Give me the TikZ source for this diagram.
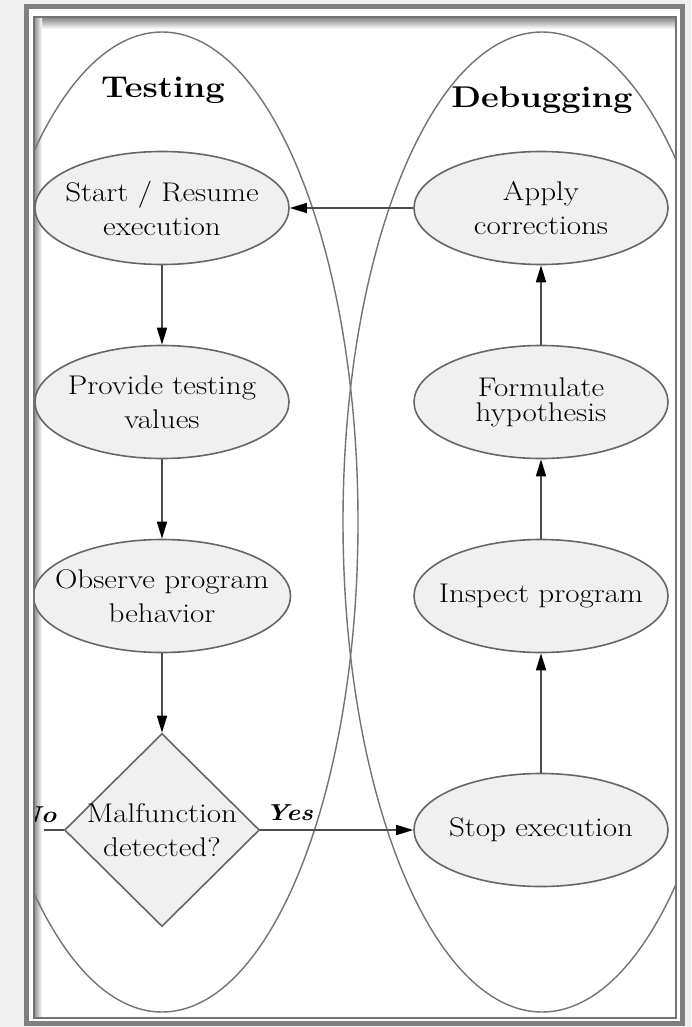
\documentclass[tikz,border=0pt]{standalone}
\usepackage{fontspec}
\setmainfont{Latin Modern Roman}[FakeStretch=1.15]
\usetikzlibrary{shapes.geometric,arrows.meta}
\begin{document}
\begin{tikzpicture}[x=1pt,y=-1pt,
  bodyfont/.style={font=\fontsize{27}{34}\selectfont},
  proc/.style={ellipse, draw=black!60, line width=1.6pt, fill=black!6, minimum width=254pt, minimum height=113pt, inner xsep=-16pt, inner ysep=0pt, align=center, bodyfont, text=black},
  dec/.style={diamond, draw=black!60, line width=1.6pt, fill=black!6, minimum width=195pt, minimum height=193pt, inner sep=0pt},
  flow/.style={draw=black!70, line width=1.6pt, -{Triangle[length=17pt,width=10pt,color=black]}},
  plain/.style={draw=black!70, line width=1.6pt},
  region/.style={draw=black!55, line width=1.4pt},
  title/.style={font=\bfseries\fontsize{30}{36}\selectfont, text=black},
  lab/.style={font=\bfseries\itshape\fontsize{23}{27}\selectfont, text=black}
]
\useasboundingbox (0,0) rectangle (691,1027);
\fill[black!6] (0,0) rectangle (691,1027);
\fill[white] (26,7) rectangle (682,1023);
\begin{scope}
\clip (34,17) rectangle (676,1018);
\shade[top color=black!50, bottom color=white] (34,17) rectangle (676,29);
\shade[left color=black!45, right color=white] (34,17) rectangle (42,1018);
\draw[region] (162,522) ellipse [x radius=196, y radius=490];
\draw[region] (542,522) ellipse [x radius=199, y radius=490];

\node[title] (ttest) at (163,90) {Testing};
\node[title] (tdebug) at (542,100) {Debugging};

\node[proc] (start) at (162,208) {Start / Resume\\execution};
\node[proc] (provide) at (162,402) {Provide testing\\values};
\node[proc] (observe) at (162,596) {Observe program\\behavior};
\node[dec, label={[bodyfont, align=center, text=black]center:Malfunction\\detected?}] (mal) at (162,830) {};
\node[proc] (apply) at (541,208) {Apply\\corrections};
\node[proc] (formulate) at (541,402) {Formulate\\[-9pt]hypothesis};
\node[proc] (inspect) at (541,596) {Inspect program};
\node[proc] (stop) at (541,830) {Stop execution};

\coordinate (noend) at (44,830);
\draw[flow] (start.south) -- (provide.north);
\draw[flow] (provide.south) -- (observe.north);
\draw[flow] (observe.south) -- (mal.north);
\draw[flow] (mal.east) -- (stop.west);
\draw[flow] (stop.north) -- (inspect.south);
\draw[flow] (inspect.north) -- (formulate.south);
\draw[flow] (formulate.north) -- (apply.south);
\draw[flow] (apply.west) -- (start.east);
\draw[plain] (mal.west) -- (noend);

\node[lab, anchor=south east] (no) at (60,826) {No};
\node[lab, anchor=south west] (yes) at (262,824) {Yes};
\end{scope}
\draw[black!50, line width=5pt] (26,7) rectangle (682,1023);
\draw[black!55, line width=2pt] (34,17) rectangle (676,1018);
\end{tikzpicture}
\end{document}
